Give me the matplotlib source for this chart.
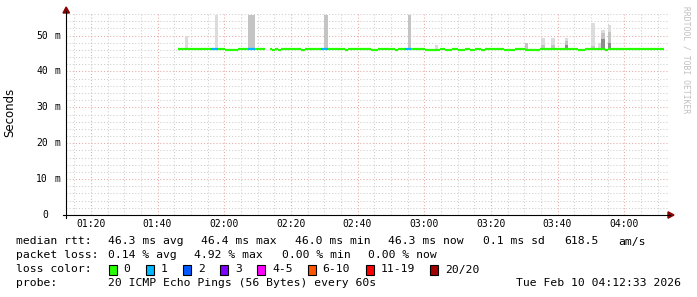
import numpy as np
import matplotlib
matplotlib.use("Agg")
import matplotlib.pyplot as plt
from matplotlib.lines import Line2D
from matplotlib.patches import Polygon, Rectangle

# time axis in minutes after midnight, rtt in ms
t_start = 72.55   # 01:12:33
t_end = 252.55    # 04:12:33

# median rtt: two spans with a short gap around 02:12
span_start = [106.0, 133.8]
span_end = [132.3, 252.0]
rtt_high = 46.35
rtt_low = 46.05

# stretches where the median sits on the lower level
low_start = [120.3, 134.4, 136.2, 143.1, 156.3, 164.1, 171.3, 180.3, 186.3,
             190.2, 193.8, 197.1, 204.0, 210.3, 226.2, 234.3]
low_end = [124.2, 135.3, 137.1, 144.3, 157.2, 166.2, 172.2, 184.8, 188.4,
           192.3, 195.3, 198.3, 207.3, 214.8, 228.3, 235.2]

# stretches with 1 of 20 pings lost
loss1_start = [116.1, 127.2, 149.1, 174.3]
loss1_end = [118.2, 129.3, 151.2, 176.1]

# smoke (spread of the single pings): outer, middle and inner band tops
smoke_start = [108.3, 117.3, 127.2, 150.0, 175.2, 183.3, 210.3, 215.1, 218.1,
               222.3, 230.1, 232.2, 233.1, 235.2]
smoke_end = [109.2, 118.2, 129.3, 151.2, 176.1, 184.2, 211.2, 216.3, 219.3,
             223.2, 231.3, 233.1, 234.3, 236.1]
smoke_top = [49.8, 55.8, 55.8, 55.8, 55.8, 47.5, 47.9, 49.2, 49.2,
             49.2, 53.4, 47.9, 51.7, 53.0]
smoke_mid = [0, 0, 55.8, 55.8, 55.8, 0, 47.9, 47.5, 47.5,
             48.5, 47.2, 0, 50.8, 51.0]
smoke_core = [0, 0, 0, 0, 0, 0, 0, 0, 0,
              47.5, 0, 0, 49.0, 48.0]

xtick_min = [80, 100, 120, 140, 160, 180, 200, 220, 240]
xtick_labels = ["01:20", "01:40", "02:00", "02:20", "02:40",
                "03:00", "03:20", "03:40", "04:00"]
ytick_vals = [0, 10, 20, 30, 40, 50]
ytick_nums = ["0", "10", "20", "30", "40", "50"]

loss_labels = ["0", "1", "2", "3", "4-5", "6-10", "11-19", "20/20"]
loss_colors = ["#26ff00", "#00b8ff", "#0059ff", "#7e00ff", "#ff00ff",
               "#ff5500", "#ff0000", "#a10000"]

stats_rtt = ["46.3 ms avg", "46.4 ms max", "46.0 ms min", "46.3 ms now",
             "0.1 ms sd", "618.5", "am/s"]
stats_loss = ["0.14 % avg", "4.92 % max", "0.00 % min", "0.00 % now"]

W, H = 697, 297
MONO = "DejaVu Sans Mono"


def fx(x):
    return x / W


def fy(y):
    return 1 - y / H


fig = plt.figure(figsize=(W / 100, H / 100), dpi=100)
fig.patch.set_facecolor("white")
ax = fig.add_axes([fx(66), fy(215), (666 - 66) / W, (215 - 13) / H])
ax.set_xlim(t_start, t_end)
ax.set_ylim(0, 56.3)
for s in ax.spines.values():
    s.set_visible(False)
ax.set_xticks([])
ax.set_yticks([])

# grid
dots = (0, (1, 2))
for m in np.arange(75, 253, 5):
    col = "#e8a8a8" if m % 20 == 0 else "#cfcfcf"
    ax.axvline(m, color=col, lw=0.75, ls=dots, zorder=0)
for v in np.arange(2, 57, 2):
    col = "#e8a8a8" if v % 10 == 0 else "#cfcfcf"
    ax.plot([t_start, t_end + 0.6], [v, v], color=col, lw=0.75, ls=dots,
            zorder=0, clip_on=False)

# smoke
for a, b, top, mid, core in zip(smoke_start, smoke_end, smoke_top,
                                smoke_mid, smoke_core):
    for lev, col in ((top, "#dcdcdc"), (mid, "#c4c4c4"), (core, "#8c8c8c")):
        if lev > rtt_high:
            ax.add_patch(Rectangle((a, rtt_high), b - a, lev - rtt_high,
                                   facecolor=col, edgecolor="none", zorder=2))


# median line coloured by loss
def level_at(t):
    for a, b in zip(low_start, low_end):
        if a <= t < b:
            return rtt_low
    return rtt_high


def color_at(t):
    for a, b in zip(loss1_start, loss1_end):
        if a <= t < b:
            return loss_colors[1]
    return loss_colors[0]


edges = low_start + low_end + loss1_start + loss1_end
for s, e in zip(span_start, span_end):
    pts = sorted(set([s, e] + [p for p in edges if s < p < e]))
    for a, b in zip(pts[:-1], pts[1:]):
        mid = (a + b) / 2
        ax.hlines(level_at(mid), a, b, color=color_at(mid), lw=1.6, zorder=5)

# x tick labels
for m, lab in zip(xtick_min, xtick_labels):
    ax.annotate(lab, xy=(m, 0), xycoords=("data", "axes fraction"),
                xytext=(0, -9), textcoords="offset pixels", ha="center",
                va="center", family=MONO, fontsize=7)
# y tick labels
for v, lab in zip(ytick_vals, ytick_nums):
    ax.annotate(lab, xy=(0, v), xycoords=("axes fraction", "data"),
                xytext=(-18, 0), textcoords="offset pixels", ha="right",
                va="center", family=MONO, fontsize=7)
    if v > 0:
        ax.annotate("m", xy=(0, v), xycoords=("axes fraction", "data"),
                    xytext=(-6, 0), textcoords="offset pixels", ha="right",
                    va="center", family=MONO, fontsize=7)

# axes with arrow heads
tf = fig.transFigure
fig.add_artist(Line2D([fx(66), fx(66)], [fy(218), fy(11)], color="black",
                      lw=0.8, transform=tf))
fig.add_artist(Line2D([fx(63), fx(670)], [fy(215), fy(215)], color="black",
                      lw=0.8, transform=tf))
fig.add_artist(Polygon([(fx(63), fy(13)), (fx(69.5), fy(13)), (fx(66.2), fy(7))],
                       closed=True, color="#8b0000", transform=tf))
fig.add_artist(Polygon([(fx(668), fy(211.8)), (fx(668), fy(218.2)), (fx(674), fy(215))],
                       closed=True, color="#8b0000", transform=tf))

fig.text(fx(10), fy(112), "Seconds", rotation=90, ha="center", va="center",
         fontsize=8.5)
fig.text(fx(686), fy(60), "RRDTOOL / TOBI OETIKER", rotation=270, ha="center",
         va="center", family=MONO, fontsize=5.8, color="#c0c0c0")

# legend block
fs = 8.2
rows = [241.5, 255.5, 269.5, 283.5]
fig.text(fx(16), fy(rows[0]), "median rtt:", family=MONO, fontsize=fs, va="center")
for x, txt in zip([108, 201, 295, 388, 483, 564, 618], stats_rtt):
    fig.text(fx(x), fy(rows[0]), txt, family=MONO, fontsize=fs, va="center")
fig.text(fx(16), fy(rows[1]), "packet loss:", family=MONO, fontsize=fs, va="center")
for x, txt in zip([108, 194, 281.5, 368], stats_loss):
    fig.text(fx(x), fy(rows[1]), txt, family=MONO, fontsize=fs, va="center")
fig.text(fx(16), fy(rows[2]), "loss color:", family=MONO, fontsize=fs, va="center")
box_x = [108.5, 146, 183, 220, 257, 307.5, 365.5, 430]
for x, lab, col in zip(box_x, loss_labels, loss_colors):
    fig.add_artist(Rectangle((fx(x), fy(rows[2] + 5)), 8 / W, 10 / H,
                             facecolor=col, edgecolor="black", lw=0.8,
                             transform=tf))
    fig.text(fx(x + 15), fy(rows[2]), lab, family=MONO, fontsize=fs, va="center")
fig.text(fx(16), fy(rows[3]), "probe:", family=MONO, fontsize=fs, va="center")
fig.text(fx(108), fy(rows[3]), "20 ICMP Echo Pings (56 Bytes) every 60s",
         family=MONO, fontsize=fs, va="center")
fig.text(fx(681), fy(rows[3]), "Tue Feb 10 04:12:33 2026", family=MONO,
         fontsize=fs, va="center", ha="right")

fig.savefig("out.png", dpi=100)
